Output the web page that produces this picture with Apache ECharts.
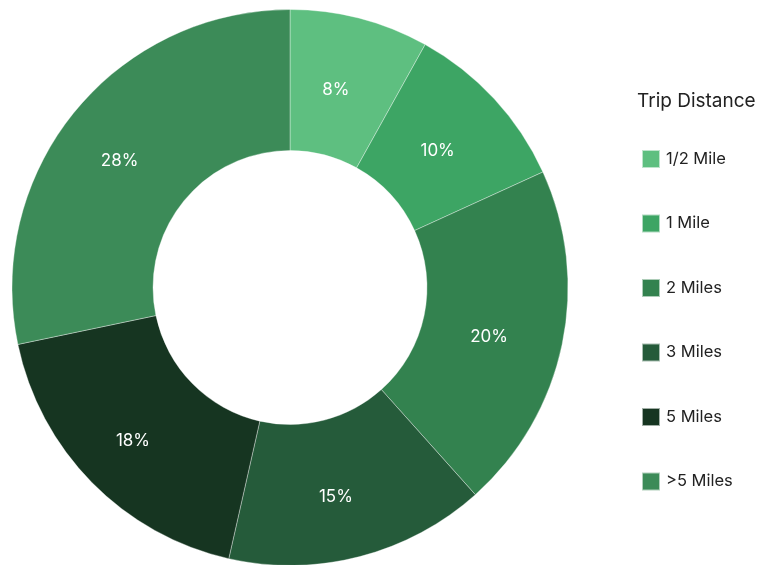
<!DOCTYPE html>
<html>
<head>
<meta charset="utf-8">
<script src="https://cdn.jsdelivr.net/npm/echarts@6/dist/echarts.min.js"></script>
<style>
  html, body { margin: 0; padding: 0; background: #fff; }
  #chart { width: 777px; height: 565px; }
</style>
</head>
<body>
<div id="chart"></div>
<script>
// Share of trips by distance band (percent)
const categories = ['1/2 Mile', '1 Mile', '2 Miles', '3 Miles', '5 Miles', '>5 Miles'];
const shares = [8, 10, 20, 15, 18, 28];
const palette = ['#5EBF80', '#3DA564', '#33824F', '#255B3A', '#163521', '#3C8B58'];

const FONT = 'Inter, Lato, "Noto Sans", sans-serif';

const chart = echarts.init(document.getElementById('chart'), null, { renderer: 'canvas' });

chart.setOption({
  animation: false,
  color: palette,
  title: {
    text: 'Trip Distance',
    left: 632,
    top: 87,
    textStyle: { fontFamily: FONT, fontSize: 19, fontWeight: 'normal', color: '#222' }
  },
  legend: {
    orient: 'vertical',
    left: 636,
    top: 144,
    itemWidth: 18,
    itemHeight: 18,
    itemGap: 44.5,
    icon: 'rect',
    data: categories,
    textStyle: { fontFamily: FONT, fontSize: 16.5, color: '#222', padding: [0, 0, 0, 1] }
  },
  series: [{
    type: 'pie',
    center: [290, 287.5],
    radius: [137, 278],
    startAngle: 90,
    clockwise: true,
    avoidLabelOverlap: false,
    itemStyle: { borderColor: 'rgba(255,255,255,0.6)', borderWidth: 0.6 },
    label: {
      position: 'inside',
      formatter: p => p.value + '%',
      color: '#fff',
      fontFamily: FONT,
      fontSize: 17,
      offset: [-7, 6]
    },
    labelLine: { show: false },
    emphasis: { disabled: true },
    data: categories.map((name, i) => ({ name, value: shares[i] }))
  }]
});
</script>
</body>
</html>
